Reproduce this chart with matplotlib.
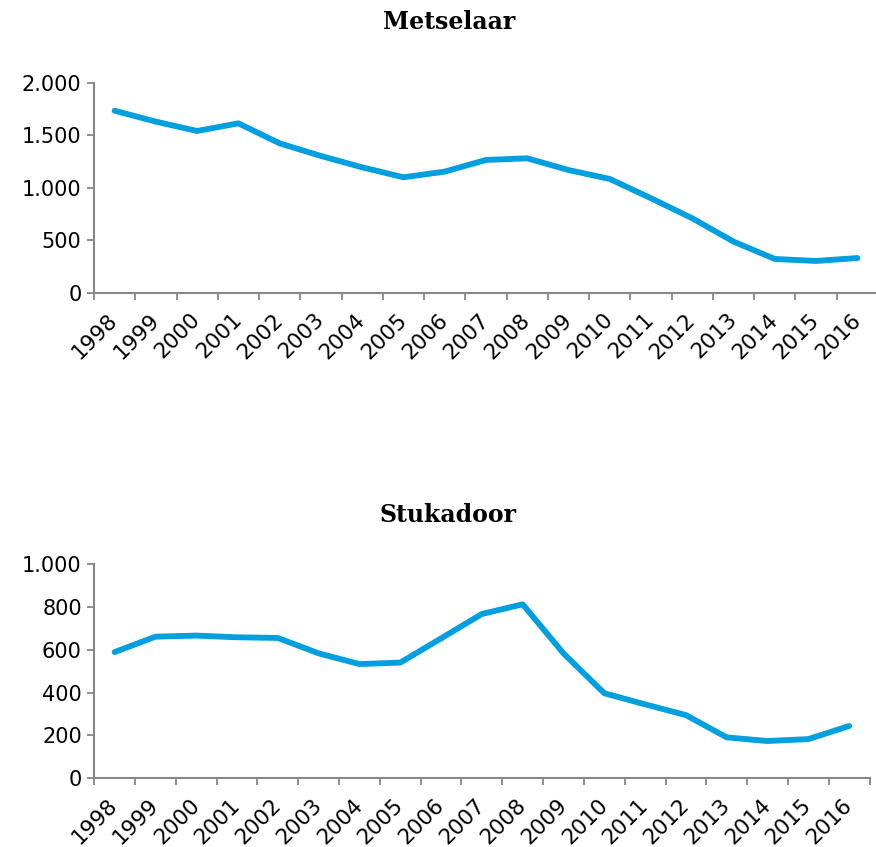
import matplotlib
matplotlib.use("Agg")
import matplotlib.pyplot as plt
from matplotlib.ticker import FixedLocator

years = [str(y) for y in range(1998, 2017)]
metselaar = [1736, 1632, 1543, 1616, 1425, 1305, 1197, 1102, 1156, 1267, 1283,
             1171, 1086, 902, 711, 489, 324, 305, 333]
stukadoor = [589, 661, 666, 658, 655, 583, 533, 540, 653, 767, 812,
             583, 397, 345, 295, 191, 174, 183, 244]
top_ticks = [0, 500, 1000, 1500, 2000]
top_labels = ["0", "500", "1.000", "1.500", "2.000"]
bot_ticks = [0, 200, 400, 600, 800, 1000]
bot_labels = ["0", "200", "400", "600", "800", "1.000"]
titles = ["Metselaar", "Stukadoor"]

LINE = "#009FDF"
GRAY = "#878787"

fig = plt.figure(figsize=(8.76, 8.47), dpi=100)

def style(ax, vals, yt, yl, ymax):
    x = list(range(len(years)))
    ax.plot(x, vals, color=LINE, lw=4.2, solid_capstyle="round", solid_joinstyle="round")
    ax.set_xlim(-0.5, len(years) - 0.5)
    ax.set_ylim(0, ymax)
    ax.set_yticks(yt)
    ax.set_yticklabels(yl)
    ax.xaxis.set_major_locator(FixedLocator([i - 0.5 for i in range(len(years) + 1)]))
    ax.xaxis.set_major_formatter(plt.NullFormatter())
    ax.xaxis.set_minor_locator(FixedLocator(x))
    ax.set_xticklabels(years, minor=True)
    for lab in ax.get_xticklabels(minor=True):
        lab.set_rotation(45)
        lab.set_ha("right")
        lab.set_va("center")
        lab.set_rotation_mode("anchor")
    ax.tick_params(axis="x", which="major", length=5, width=1.3, color=GRAY, direction="out")
    ax.tick_params(axis="x", which="minor", length=0, pad=17, labelsize=15.5)
    ax.tick_params(axis="y", length=5, width=1.3, color=GRAY, labelsize=15, pad=4)
    for s in ["top", "right"]:
        ax.spines[s].set_visible(False)
    for s in ["left", "bottom"]:
        ax.spines[s].set_color(GRAY)
        ax.spines[s].set_linewidth(1.5)

ax1 = fig.add_axes([0.1073, 0.6541, 0.895, 0.2479])
style(ax1, metselaar, top_ticks, top_labels, 2000)
ax2 = fig.add_axes([0.1076, 0.0811, 0.885, 0.2530])
style(ax2, stukadoor, bot_ticks, bot_labels, 1000)

fig.text(0.5126, 0.974, titles[0], ha="center", va="center", fontsize=17,
         family="DejaVu Serif", weight="bold")
fig.text(0.5114, 0.392, titles[1], ha="center", va="center", fontsize=17,
         family="DejaVu Serif", weight="bold")

fig.savefig("out.png", dpi=100, facecolor="white")
